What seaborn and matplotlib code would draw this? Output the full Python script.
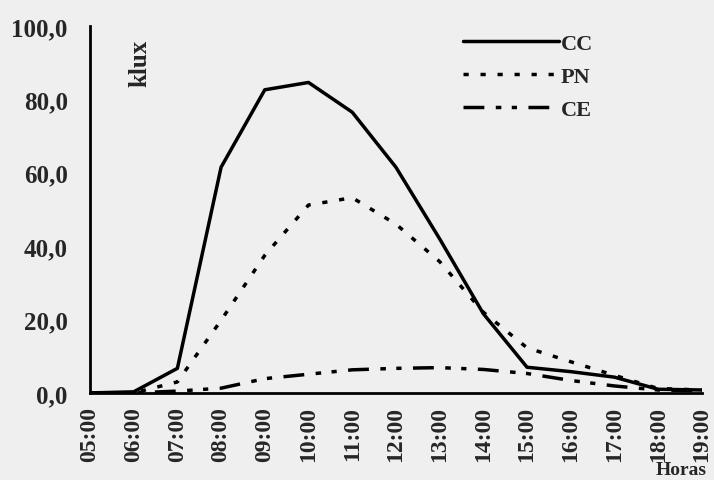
import pandas as pd
import seaborn as sns
import matplotlib.pyplot as plt

# horas do dia
horas = ['05:00', '06:00', '07:00', '08:00', '09:00', '10:00', '11:00', '12:00',
         '13:00', '14:00', '15:00', '16:00', '17:00', '18:00', '19:00']

# iluminância (klux)
cc = [0.0, 0.3, 6.7, 61.5, 82.6, 84.6, 76.5, 61.5, 42.0, 21.6, 7.0, 5.8, 4.3, 1.0, 0.8]
pn = [0.0, 0.0, 3.0, 19.8, 37.5, 51.2, 53.2, 46.0, 35.8, 22.0, 12.3, 8.5, 4.8, 1.2, 0.8]
ce = [0.0, 0.0, 0.5, 1.3, 3.9, 5.1, 6.3, 6.7, 6.9, 6.4, 5.3, 3.4, 1.9, 0.8, 0.6]

series = ['CC', 'PN', 'CE']

df = pd.DataFrame({
    'hora': list(range(len(horas))) * 3,
    'klux': cc + pn + ce,
    'serie': ['CC'] * len(horas) + ['PN'] * len(horas) + ['CE'] * len(horas),
})

sns.set_style('white')
plt.rcParams['font.family'] = ['Liberation Serif', 'DejaVu Serif']

fig = plt.figure(figsize=(7.14, 4.81), dpi=100)
fig.patch.set_facecolor('#efefef')
ax = fig.add_axes([0.126, 0.181, 0.857, 0.763])
ax.set_facecolor('#efefef')

estilos = {'CC': '', 'PN': (1.5, 3.4), 'CE': (6, 3.3, 1.6, 3, 1.5, 3.3)}
sns.lineplot(data=df, x='hora', y='klux', style='serie', style_order=series,
             dashes=estilos, color='black', linewidth=2.5, ax=ax, legend=False)

ax.set_xlim(0, len(horas) - 1)
ax.set_ylim(0, 100)
ax.set_xticks(range(len(horas)))
ax.set_xticklabels(horas, rotation=90, fontsize=17, fontweight='bold')
ax.set_yticks(range(0, 101, 20))
ax.set_yticklabels([f'{v},0' for v in range(0, 101, 20)], fontsize=18, fontweight='bold')
ax.tick_params(axis='x', direction='inout', length=9, width=1.3, pad=5)
ax.tick_params(axis='y', direction='inout', length=8, width=1.3, pad=12)
ax.set_xlabel('')
ax.set_ylabel('')

sns.despine(ax=ax)
for s in ['left', 'bottom']:
    ax.spines[s].set_linewidth(2)
    ax.spines[s].set_color('black')

# legenda manual com linhas longas
handles = [plt.Line2D([], [], color='black', lw=2.5, dashes=estilos[s] if estilos[s] else (None, None))
           for s in series]
handles[0].set_linestyle('-')
ax.legend(handles, series, loc='upper left', bbox_to_anchor=(0.577, 1.035),
          frameon=False, handlelength=4.3, handletextpad=0.1, labelspacing=0.56,
          prop={'family': 'Liberation Serif', 'weight': 'bold', 'size': 16})

ax.text(0.082, 0.9, 'klux', rotation=90, transform=ax.transAxes,
        ha='center', va='center', fontsize=18, fontweight='bold')
fig.text(707 / 714, 2 / 481, 'Horas', ha='right', va='bottom',
         fontsize=14, fontweight='bold')

fig.savefig('out.png', dpi=100, facecolor=fig.get_facecolor())
